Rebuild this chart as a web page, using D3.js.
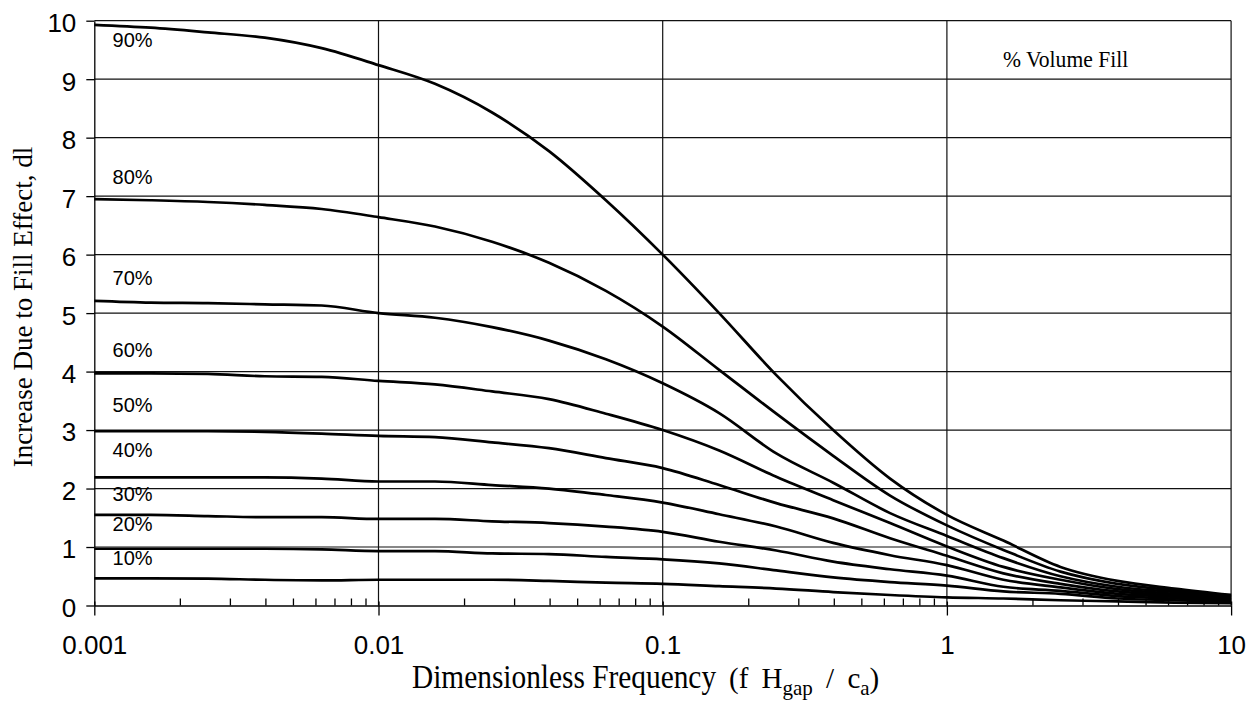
<!DOCTYPE html>
<html>
<head>
<meta charset="utf-8">
<script src="https://cdn.jsdelivr.net/npm/d3@7"></script>
<style>
  body { margin: 0; background: #fff; }
  .tick-y text, .tick-x text { font-family: "Liberation Sans", Arial, sans-serif; fill: #000; }
  .curve-label { font-family: "Liberation Sans", Arial, sans-serif; font-size: 20px; }
  .serif { font-family: "Liberation Serif", "Times New Roman", serif; }
</style>
</head>
<body>
<div id="chart"></div>
<script>
// frequencies (log spaced)
const freq = [0.001, 0.00158, 0.00251, 0.00398, 0.00631, 0.01, 0.0158, 0.0251, 0.0398, 0.0631,
  0.1, 0.158, 0.251, 0.398, 0.631, 1, 1.58, 2.51, 3.98, 6.31, 10]

const fill90 = [9.93, 9.88, 9.80, 9.71, 9.53, 9.24, 8.92, 8.43, 7.77, 6.93, 6.00, 5.00, 3.94, 3.00, 2.17, 1.55, 1.11, 0.66, 0.42, 0.29, 0.18]
const fill80 = [6.95, 6.93, 6.90, 6.85, 6.78, 6.64, 6.48, 6.22, 5.86, 5.38, 4.77, 4.03, 3.28, 2.56, 1.88, 1.37, 0.95, 0.58, 0.37, 0.26, 0.16]
const fill70 = [5.21, 5.18, 5.17, 5.15, 5.13, 5.00, 4.92, 4.76, 4.53, 4.21, 3.80, 3.29, 2.60, 2.10, 1.58, 1.19, 0.81, 0.50, 0.32, 0.23, 0.15]
const fill60 = [3.97, 3.97, 3.96, 3.92, 3.91, 3.84, 3.78, 3.66, 3.53, 3.28, 3.00, 2.65, 2.20, 1.80, 1.41, 1.01, 0.66, 0.44, 0.28, 0.20, 0.13]
const fill50 = [2.98, 2.98, 2.98, 2.97, 2.94, 2.90, 2.88, 2.79, 2.69, 2.52, 2.35, 2.06, 1.75, 1.49, 1.15, 0.85, 0.55, 0.37, 0.24, 0.17, 0.11]
const fill40 = [2.19, 2.19, 2.19, 2.19, 2.17, 2.12, 2.12, 2.06, 2.00, 1.89, 1.76, 1.56, 1.35, 1.07, 0.86, 0.69, 0.44, 0.31, 0.20, 0.15, 0.10]
const fill30 = [1.55, 1.55, 1.53, 1.51, 1.51, 1.48, 1.48, 1.44, 1.41, 1.35, 1.26, 1.09, 0.94, 0.75, 0.62, 0.51, 0.32, 0.25, 0.16, 0.12, 0.08]
const fill20 = [0.97, 0.97, 0.97, 0.97, 0.96, 0.93, 0.93, 0.89, 0.88, 0.83, 0.79, 0.72, 0.60, 0.48, 0.40, 0.34, 0.24, 0.20, 0.12, 0.09, 0.06]
const fill10 = [0.465, 0.465, 0.46, 0.44, 0.43, 0.44, 0.44, 0.44, 0.42, 0.39, 0.37, 0.33, 0.29, 0.23, 0.18, 0.14, 0.12, 0.09, 0.07, 0.05, 0.04]

const seriesNames = ["90%", "80%", "70%", "60%", "50%", "40%", "30%", "20%", "10%"]
const seriesValues = [fill90, fill80, fill70, fill60, fill50, fill40, fill30, fill20, fill10]
// where each "xx%" label sits (y value at the left edge)
const labelValues = [9.55, 7.21, 5.48, 4.25, 3.31, 2.54, 1.79, 1.27, 0.69]

const xTickValues = [0.001, 0.01, 0.1, 1, 10]
const xTickLabels = ["0.001", "0.01", "0.1", "1", "10"]
const yTickValues = [0, 1, 2, 3, 4, 5, 6, 7, 8, 9, 10]

const width = 1248
const height = 704
const margin = { top: 20.7, right: 16.9, bottom: 98.5, left: 94.3 }

const svg = d3.select("#chart").append("svg")
    .attr("width", width)
    .attr("height", height)

const x = d3.scaleLog()
    .domain([0.001, 10])
    .range([margin.left, width - margin.right])

const y = d3.scaleLinear()
    .domain([0, 10])
    .range([height - margin.bottom, margin.top])

// minor tick values 2..9 in each decade
const minorTicks = []
xTickValues.slice(0, -1).forEach(d => {
    for (let m = 2; m <= 9; m++) minorTicks.push(d * m)
})

// Gridlines
const grid = svg.append("g").attr("stroke", "#111").attr("stroke-width", 1.2)
grid.selectAll(".hgrid")
    .data(yTickValues.slice(1))
    .join("line")
        .attr("x1", x(0.001)).attr("x2", x(10))
        .attr("y1", d => y(d)).attr("y2", d => y(d))
grid.selectAll(".vgrid")
    .data(xTickValues.slice(1))
    .join("line")
        .attr("x1", d => x(d)).attr("x2", d => x(d))
        .attr("y1", y(0)).attr("y2", y(10))

// Y axis
const yAxis = svg.append("g")
    .attr("class", "tick-y")
    .attr("transform", `translate(${x(0.001)},0)`)
    .call(d3.axisLeft(y).tickValues(yTickValues).tickSize(8).tickSizeOuter(0).tickPadding(10))
yAxis.selectAll("text").attr("font-size", 26).attr("dy", "0.42em")
yAxis.selectAll("line, path").attr("stroke", "#000").attr("stroke-width", 1.3)

// X axis: major ticks with labels
const xAxis = svg.append("g")
    .attr("class", "tick-x")
    .attr("transform", `translate(0,${y(0)})`)
    .call(d3.axisBottom(x).tickValues(xTickValues).tickSize(10).tickPadding(20)
        .tickFormat((d, i) => xTickLabels[i]).tickSizeOuter(0))
xAxis.selectAll("text").attr("font-size", 26)
xAxis.selectAll("line, path").attr("stroke", "#000").attr("stroke-width", 1.3)
xAxis.selectAll(".tick").append("line")
    .attr("y1", -4).attr("y2", 0)
    .attr("stroke", "#000").attr("stroke-width", 1.3)

// X axis: minor ticks pointing inward
svg.append("g")
    .attr("transform", `translate(0,${y(0)})`)
    .call(d3.axisBottom(x).tickValues(minorTicks).tickSize(-7).tickFormat(""))
    .call(g => g.select(".domain").remove())
    .selectAll("line").attr("stroke", "#000").attr("stroke-width", 1.3)

// Curves
const line = d3.line()
    .x((d, i) => x(freq[i]))
    .y(d => y(d))
    .curve(d3.curveMonotoneX)

svg.append("g")
    .selectAll("path")
    .data(seriesValues)
    .join("path")
        .attr("d", line)
        .attr("fill", "none")
        .attr("stroke", "#000")
        .attr("stroke-width", 2.7)
        .attr("stroke-linejoin", "round")

// Curve labels
svg.append("g")
    .selectAll("text")
    .data(seriesNames)
    .join("text")
        .attr("class", "curve-label")
        .attr("x", x(0.00116))
        .attr("y", (d, i) => y(labelValues[i]))
        .text(d => d)

// Legend title
svg.append("text")
    .attr("class", "serif")
    .attr("transform", "translate(1003,66.7) scale(0.9,1)")
    .attr("font-size", 24)
    .text("% Volume Fill")

// Y axis title
svg.append("text")
    .attr("class", "serif")
    .attr("transform", "translate(32,307) rotate(-90)")
    .attr("text-anchor", "middle")
    .attr("font-size", 27)
    .text("Increase Due to Fill Effect, dl")

// X axis title
svg.append("text")
    .attr("class", "serif")
    .attr("transform", "translate(412,688) scale(0.89,1)")
    .attr("font-size", 33)
    .text("Dimensionless Frequency")

const sub = svg.append("text")
    .attr("class", "serif")
    .attr("x", 729)
    .attr("y", 688)
    .attr("font-size", 29)
    .attr("word-spacing", 6)
sub.append("tspan").text("(f H")
sub.append("tspan").attr("font-size", 21).attr("dy", 7).text("gap")
sub.append("tspan").attr("dy", -7).text(" / c")
sub.append("tspan").attr("font-size", 21).attr("dy", 7).text("a")
sub.append("tspan").attr("dy", -7).text(")")
</script>
</body>
</html>
